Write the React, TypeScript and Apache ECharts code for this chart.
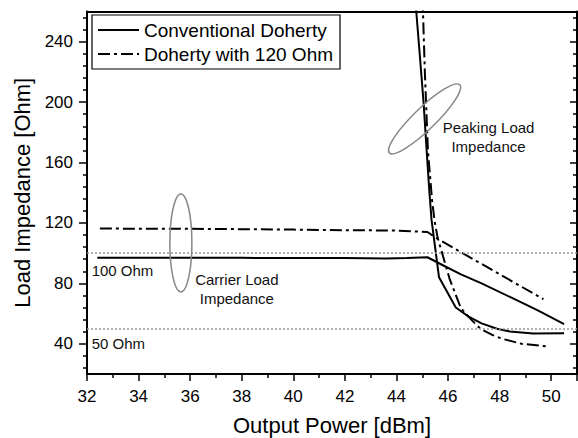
import React, { useEffect, useRef } from "react";
import * as echarts from "echarts";

// Output power [dBm] / load impedance [Ohm] traces
const convCarrierX = [32.4, 34, 36, 38, 40, 42, 43.6, 44.4, 45.2, 45.8, 46.5, 47.3, 48.4, 49.5, 50.5];
const convCarrierY = [97, 97, 97, 96.9, 96.8, 96.8, 96.5, 96.8, 97.3, 92, 86, 80, 71, 62, 53];

const convPeakX = [44.72, 44.9, 45.05, 45.17, 45.27, 45.36, 45.65, 46.3, 46.8, 47.3, 47.9, 48.4, 49.3, 50.5];
const convPeakY = [270, 232, 200, 168, 142, 122, 84, 64, 58, 53.5, 50, 48.2, 46.8, 47];

const dd120CarrierX = [32.5, 34, 36, 38, 40, 42, 44, 45.2, 45.55, 47.1, 49.7];
const dd120CarrierY = [116.3, 116.2, 116.1, 115.9, 115.6, 115.2, 115, 114, 110, 94.8, 69.5];

const dd120PeakX = [44.99, 45.03, 45.1, 45.22, 45.38, 45.48, 45.6, 46.06, 46.5, 46.9, 47.25, 47.7, 48.1, 48.85, 49.8];
const dd120PeakY = [268, 259, 220, 168, 135, 121, 110, 83, 63.5, 56, 50, 46, 43.3, 40, 38.3];

// Reference impedance levels
const refLevels = [100, 50];
const refLabels = ["100 Ohm", "50 Ohm"];

// Axis ticks
const xLabelValues = [32, 34, 36, 38, 40, 42, 44, 46, 48, 50];
const yMajorTicks = [40, 80, 120, 160, 200, 240];
const yMinorTicks = [24, 32, 48, 56, 64, 72, 88, 96, 104, 112, 128, 136, 144, 152, 168, 176, 184, 192, 208, 216, 224, 232, 248, 256];

const seriesNames = ["Conventional Doherty", "Doherty with 120 Ohm"];

// Annotation anchors in data coordinates
const refLabelPos: [number, number][] = [[32.18, 88.6], [32.18, 40.5]];
const carrierEllipse: [number, number] = [35.64, 106.8];
const peakingEllipse: [number, number] = [45.09, 188.9];
const carrierText: [number, number] = [37.81, 76];
const peakingText: [number, number] = [47.57, 177.1];

const FONT = "'Liberation Sans', Arial, Helvetica, sans-serif";
const DASH_DOT = [12, 4, 3, 4];

const zip = (xs: number[], ys: number[]) => xs.map((x, i) => [x, ys[i]]);

export default function App() {
  const ref = useRef<HTMLDivElement>(null);

  useEffect(() => {
    if (!ref.current) return;
    const chart = echarts.init(ref.current, null, { renderer: "svg" });

    const axisLine = { show: true, lineStyle: { color: "#000", width: 2 } };
    const yBase = { type: "value", min: 20, max: 260, splitLine: { show: false } };

    const solid = { color: "#000", width: 2, type: "solid" };
    const dashDot = { color: "#000", width: 2, type: DASH_DOT };

    chart.setOption({
      animation: false,
      backgroundColor: "#fff",
      grid: { left: 87, right: 1, top: 11.5, bottom: 64, containLabel: false, outerBoundsMode: "none" },
      legend: {
        data: seriesNames,
        orient: "vertical",
        left: 92,
        top: 15,
        padding: [5.5, 7, 5.5, 5],
        itemGap: 5,
        itemWidth: 41,
        itemHeight: 14,
        borderColor: "#000",
        borderWidth: 1.2,
        backgroundColor: "#fff",
        itemStyle: { opacity: 0 },
        textStyle: { fontFamily: FONT, fontSize: 19, color: "#000" },
      },
      xAxis: [
        {
          type: "value",
          min: 32,
          max: 51,
          interval: 2,
          position: "bottom",
          axisLine,
          axisTick: { show: true, length: 7, lineStyle: { color: "#000", width: 1.5 } },
          minorTick: { show: true, splitNumber: 2, length: 4, lineStyle: { color: "#000", width: 1.5 } },
          axisLabel: { customValues: xLabelValues, fontFamily: FONT, fontSize: 17, color: "#000", margin: 14 },
          splitLine: { show: false },
          name: "Output Power [dBm]",
          nameLocation: "middle",
          nameGap: 40,
          nameTextStyle: { fontFamily: FONT, fontSize: 22, color: "#000" },
        },
        {
          type: "value",
          min: 32,
          max: 51,
          position: "top",
          axisLine,
          axisTick: { show: false },
          axisLabel: { show: false },
          splitLine: { show: false },
        },
      ],
      yAxis: [
        {
          ...yBase,
          position: "left",
          axisLine,
          axisTick: { show: true, customValues: yMajorTicks, length: 8, lineStyle: { color: "#000", width: 1.5 } },
          axisLabel: { customValues: yMajorTicks, fontFamily: FONT, fontSize: 17, color: "#000", margin: 14 },
          name: "Load Impedance [Ohm]",
          nameLocation: "middle",
          nameGap: 53,
          nameTextStyle: { fontFamily: FONT, fontSize: 22, color: "#000" },
        },
        {
          ...yBase,
          position: "left",
          axisLine: { show: false },
          axisTick: { show: true, customValues: yMinorTicks, length: 4, lineStyle: { color: "#000", width: 1.5 } },
          axisLabel: { show: false },
        },
        {
          ...yBase,
          position: "right",
          axisLine,
          axisTick: { show: true, inside: true, customValues: yMajorTicks, length: 7, lineStyle: { color: "#000", width: 1.5 } },
          axisLabel: { show: false },
        },
        {
          ...yBase,
          position: "right",
          axisLine: { show: false },
          axisTick: { show: true, inside: true, customValues: yMinorTicks, length: 4, lineStyle: { color: "#000", width: 1.5 } },
          axisLabel: { show: false },
        },
      ],
      series: [
        {
          name: seriesNames[0],
          type: "line",
          data: zip(convCarrierX, convCarrierY),
          symbol: "none",
          lineStyle: solid,
          itemStyle: { color: "#000" },
          markLine: {
            silent: true,
            symbol: "none",
            label: { show: false },
            lineStyle: { color: "#999", width: 1.5, type: [2, 2] },
            data: refLevels.map((v) => ({ yAxis: v })),
          },
          z: 3,
        },
        {
          name: seriesNames[0],
          type: "line",
          data: zip(convPeakX, convPeakY),
          symbol: "none",
          lineStyle: solid,
          itemStyle: { color: "#000" },
          z: 3,
        },
        {
          name: seriesNames[1],
          type: "line",
          data: zip(dd120CarrierX, dd120CarrierY),
          symbol: "none",
          lineStyle: dashDot,
          itemStyle: { color: "#000" },
          z: 3,
        },
        {
          name: seriesNames[1],
          type: "line",
          data: zip(dd120PeakX, dd120PeakY),
          symbol: "none",
          lineStyle: dashDot,
          itemStyle: { color: "#000" },
          z: 3,
        },
      ],
    });

    // Annotations positioned through the axis scales
    const toPx = (p: [number, number]) =>
      chart.convertToPixel({ xAxisIndex: 0, yAxisIndex: 0 }, p) as number[];

    const ellipseStyle = { fill: "none", stroke: "#888", lineWidth: 1.5 };
    const annoText = { fontFamily: FONT, fontSize: 15, fill: "#111", lineHeight: 19 };

    const ce = toPx(carrierEllipse);
    const pe = toPx(peakingEllipse);
    const ct = toPx(carrierText);
    const pt = toPx(peakingText);

    chart.setOption({
      graphic: [
        {
          type: "ellipse",
          x: ce[0],
          y: ce[1],
          shape: { cx: 0, cy: 0, rx: 11, ry: 49 },
          style: ellipseStyle,
          z: 10,
        },
        {
          type: "ellipse",
          x: pe[0],
          y: pe[1],
          rotation: (44 * Math.PI) / 180,
          shape: { cx: 0, cy: 0, rx: 49, ry: 11 },
          style: ellipseStyle,
          z: 10,
        },
        {
          type: "text",
          x: ct[0],
          y: ct[1],
          style: { ...annoText, text: "Carrier Load\nImpedance", align: "center", verticalAlign: "middle" },
          z: 10,
        },
        {
          type: "text",
          x: pt[0],
          y: pt[1],
          style: { ...annoText, text: "Peaking Load\nImpedance", align: "center", verticalAlign: "middle" },
          z: 10,
        },
        ...refLabelPos.map((p, i) => {
          const q = toPx(p);
          return {
            type: "text",
            x: q[0],
            y: q[1],
            style: { ...annoText, text: refLabels[i], align: "left", verticalAlign: "middle" },
            z: 10,
          };
        }),
      ],
    });

    return () => chart.dispose();
  }, []);

  return (
    <div
      ref={ref}
      style={{ position: "absolute", left: 0, top: 0, width: 578, height: 438 }}
    />
  );
}
